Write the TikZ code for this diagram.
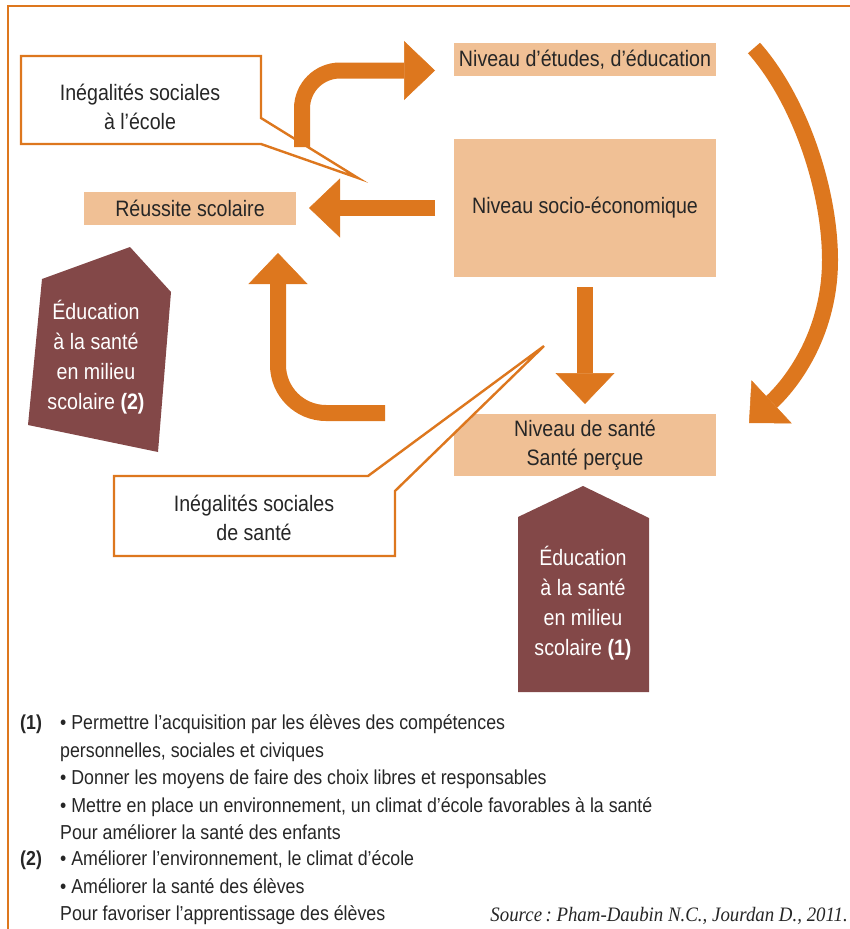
\documentclass[tikz,border=0pt]{standalone}
\usepackage{fontspec}
\setmainfont{Liberation Sans}[FakeStretch=0.88]
\newfontfamily\srcfont{Liberation Serif}[FakeStretch=0.92]
\usetikzlibrary{arrows.meta}
\frenchspacing

\definecolor{arroworange}{HTML}{DD771E}
\definecolor{peach}{HTML}{F0C095}
\definecolor{edubrown}{HTML}{834848}
\definecolor{inktext}{HTML}{262626}

\newcommand\diagfont{\fontsize{22.3}{29}\selectfont}
\newcommand\edufont{\fontsize{22.3}{30}\selectfont}
\newcommand\notefont{\fontsize{20.2}{27}\selectfont}

\tikzset{
  lvlbox/.style={fill=peach, text=inktext, font=\diagfont, align=center,
    inner sep=0pt, outer sep=0pt},
  calloutline/.style={draw=arroworange, line width=2.4pt, fill=white, line join=miter},
  callouttext/.style={text=inktext, font=\diagfont, align=center, inner sep=0pt},
  fatarrow/.style={draw=arroworange, line width=16pt,
    -{Triangle[length=31pt, width=59pt, line width=0.5pt]}},
  edushape/.style={fill=edubrown},
  edutext/.style={text=white, font=\edufont, align=center, inner sep=0pt},
  frameline/.style={draw=arroworange, line width=1.6pt},
  notetext/.style={text=inktext, font=\notefont, anchor=base west, inner sep=0pt},
}

\begin{document}
\begin{tikzpicture}[x=1pt, y=-1pt]
\useasboundingbox (0,0) rectangle (850,929);

% frame
\draw[frameline] (8,929) -- (8,6) -- (850,6);

% level boxes
\node[lvlbox, minimum width=212pt, minimum height=33pt] (reussite) at (190,208.5) {Réussite scolaire};
\node[lvlbox, minimum width=262pt, minimum height=33pt] (etudes) at (585,59.5) {Niveau d’études, d’éducation};
\node[lvlbox, minimum width=262pt, minimum height=138pt] (socio) at (585,208) {Niveau socio-économique};
\node[lvlbox, minimum width=262pt, minimum height=62pt] (sante) at (585,445) {Niveau de santé\\Santé perçue};

% callouts
\draw[calloutline] (21,56) -- (261,56) -- (261,118) -- (358,178) -- (261,144) -- (21,144) -- cycle;
\node[callouttext] (inegecole) at (140,107) {Inégalités sociales\\à l’école};

\draw[calloutline] (114,476) -- (368,476) -- (544,346) -- (395,491) -- (395,556) -- (114,556) -- cycle;
\node[callouttext] (inegsante) at (254,518) {Inégalités sociales\\de santé};

% health education shapes
\fill[edushape] (518,517) -- (583,486) -- (649,518) -- (649,692) -- (518,692) -- cycle;
\node[edutext] (edu1) at (583,603.5) {Éducation\\à la santé\\en milieu\\scolaire \textbf{(1)}};

\fill[edushape] (42,279) -- (130,247) -- (171,292) -- (158,452) -- (28,425) -- cycle;
\node[edutext] (edu2) at (96,357.5) {Éducation\\à la santé\\en milieu\\scolaire \textbf{(2)}};

% arrow end points
\coordinate (upstart) at (302,147);
\coordinate (ustart) at (385,413);
\coordinate (arcstart) at (754,48);
\coordinate (arcend) at (749,423);

% arrows
\draw[fatarrow, shorten <=19pt, shorten >=13pt] (socio.west) -- (socio.west -| reussite.east);
\draw[fatarrow, shorten <=10pt, shorten >=10pt] (socio.south) -- (sante.north);
\draw[fatarrow, rounded corners=38pt, shorten >=19pt] (upstart) |- ([yshift=-11pt]etudes.west);
\draw[fatarrow, rounded corners=48pt, shorten >=28pt] (ustart) -| ([xshift=88pt]reussite.south);
\draw[fatarrow] (arcstart) .. controls (800,100) and (830,190) .. (830,260)
  .. controls (830,330) and (795,380) .. (arcend);

% notes
\node[notetext] (n1a) at (20,729) {\textbf{(1)}};
\node[notetext] (n1b) at (60,729) {• Permettre l’acquisition par les élèves des compétences};
\node[notetext] (n1c) at (60,757) {personnelles, sociales et civiques};
\node[notetext] (n1d) at (60,784) {• Donner les moyens de faire des choix libres et responsables};
\node[notetext] (n1e) at (60,812) {• Mettre en place un environnement, un climat d’école favorables à la santé};
\node[notetext] (n1f) at (60,839) {Pour améliorer la santé des enfants};
\node[notetext] (n2a) at (20,865) {\textbf{(2)}};
\node[notetext] (n2b) at (60,865) {• Améliorer l’environnement, le climat d’école};
\node[notetext] (n2c) at (60,893) {• Améliorer la santé des élèves};
\node[notetext] (n2d) at (60,920) {Pour favoriser l’apprentissage des élèves};

\node[text=inktext, font=\srcfont\itshape\fontsize{20.5}{24}\selectfont, anchor=base east, inner sep=0pt]
  (source) at (848,921) {Source\,: Pham-Daubin N.C., Jourdan D., 2011.};
\end{tikzpicture}
\end{document}
